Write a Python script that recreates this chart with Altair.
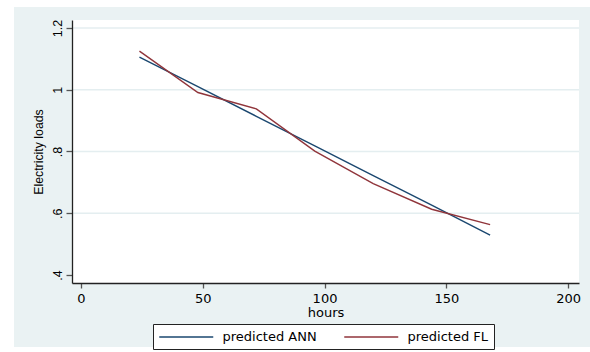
import altair as alt
import pandas as pd

# ---- data ----
HOURS = [24, 48, 72, 96, 120, 144, 168]
ANN = [1.106, 1.010, 0.914, 0.818, 0.722, 0.626, 0.529]
FL = [1.125, 0.991, 0.938, 0.801, 0.696, 0.613, 0.563]
SERIES = ["predicted ANN", "predicted FL"]
COLORS = ["#1a476f", "#90353b"]

X_TICKS = [0, 50, 100, 150, 200]
Y_TICKS = [0.4, 0.6, 0.8, 1.0, 1.2]
Y_TICK_LABELS = [".4", ".6", ".8", "1", "1.2"]
GRID_Y = [0.6, 0.8, 1.0, 1.2]

X_DOMAIN = [-3.7, 204.5]
Y_DOMAIN = [0.3741, 1.2259]

W, H = 507, 263
BG = "#EAF2F3"

rows = []
for name, vals in zip(SERIES, [ANN, FL]):
    for h, v in zip(HOURS, vals):
        rows.append({"hours": h, "load": v, "series": name})
df = pd.DataFrame(rows)

y_expr = " : ".join(
    f"abs(datum.value - {v}) < 1e-6 ? '{l}'" for v, l in zip(Y_TICKS, Y_TICK_LABELS)
) + " : ''"

xscale = alt.Scale(domain=X_DOMAIN, nice=False, zero=False)
yscale = alt.Scale(domain=Y_DOMAIN, nice=False, zero=False)

y_axis = alt.Axis(
    title="Electricity loads",
    values=Y_TICKS,
    labelExpr=y_expr,
    grid=False,
    zindex=1,
    labelAngle=270,
    labelAlign="center",
    labelBaseline="alphabetic",
    labelFont="Liberation Sans",
    labelFontSize=12.5,
    labelColor="black",
    labelPadding=5,
    tickSize=6,
    tickColor="#555555",
    tickWidth=1.3,
    domainColor="#222222",
    domainWidth=1.3,
    titleFont="Liberation Sans",
    titleFontSize=12.3,
    titleFontWeight="normal",
    titleColor="black",
    titlePadding=6,
)

one = alt.Data(values=[{"k": 1}])

# outer light background panel (decoration)
bg = alt.Chart(one).mark_rect(color=BG).encode(
    x=alt.value(-58), x2=alt.value(518), y=alt.value(-13), y2=alt.value(327)
)
# white plot region (decoration)
plotbg = alt.Chart(one).mark_rect(color="white").encode(
    x=alt.value(0), x2=alt.value(W), y=alt.value(0), y2=alt.value(H)
)

grid = alt.Chart(pd.DataFrame({"load": GRID_Y})).mark_rule(
    color="#E4EEF0", strokeWidth=1.5
).encode(
    y=alt.Y("load:Q", scale=yscale, axis=y_axis)
)

# legend symbol: a long horizontal stroke starting at the symbol's left edge
SYM_R = 6.75
lines = alt.Chart(df).mark_line(strokeWidth=1.4).encode(
    x=alt.X(
        "hours:Q",
        scale=xscale,
        axis=alt.Axis(
            title="hours",
            values=X_TICKS,
            grid=False,
            zindex=1,
            labelFont="DejaVu Sans",
            labelFontSize=13,
            labelColor="black",
            labelPadding=4,
            tickSize=5,
            tickColor="#555555",
            tickWidth=1.3,
            domainColor="#222222",
            domainWidth=1.3,
            titleFont="DejaVu Sans",
            titleFontSize=13,
            titleFontWeight="normal",
            titleColor="black",
            titlePadding=1,
        ),
    ),
    y=alt.Y("load:Q", scale=yscale, axis=y_axis),
    color=alt.Color(
        "series:N",
        scale=alt.Scale(domain=SERIES, range=COLORS),
        title=None,
        legend=alt.Legend(
            orient="none",
            legendX=81,
            legendY=304,
            direction="horizontal",
            columns=2,
            columnPadding=24,
            padding=5,
            strokeColor="#222222",
            fillColor="white",
            symbolType="M-1,0H7",
            symbolSize=(2 * SYM_R) ** 2,
            symbolStrokeWidth=1.6,
            labelFont="DejaVu Sans",
            labelFontSize=13,
            labelColor="black",
            labelOffset=8 * SYM_R - 2 * SYM_R + 8,
            labelLimit=300,
        ),
    ),
)

chart = alt.layer(bg, plotbg, grid, lines).properties(
    width=W,
    height=H,
    autosize="none",
    padding={"left": 72, "top": 20, "right": 11, "bottom": 69},
    background="white",
).configure_view(stroke=None, fill="white")

chart.save("out.html", embed_options={"renderer": "svg", "actions": False})
